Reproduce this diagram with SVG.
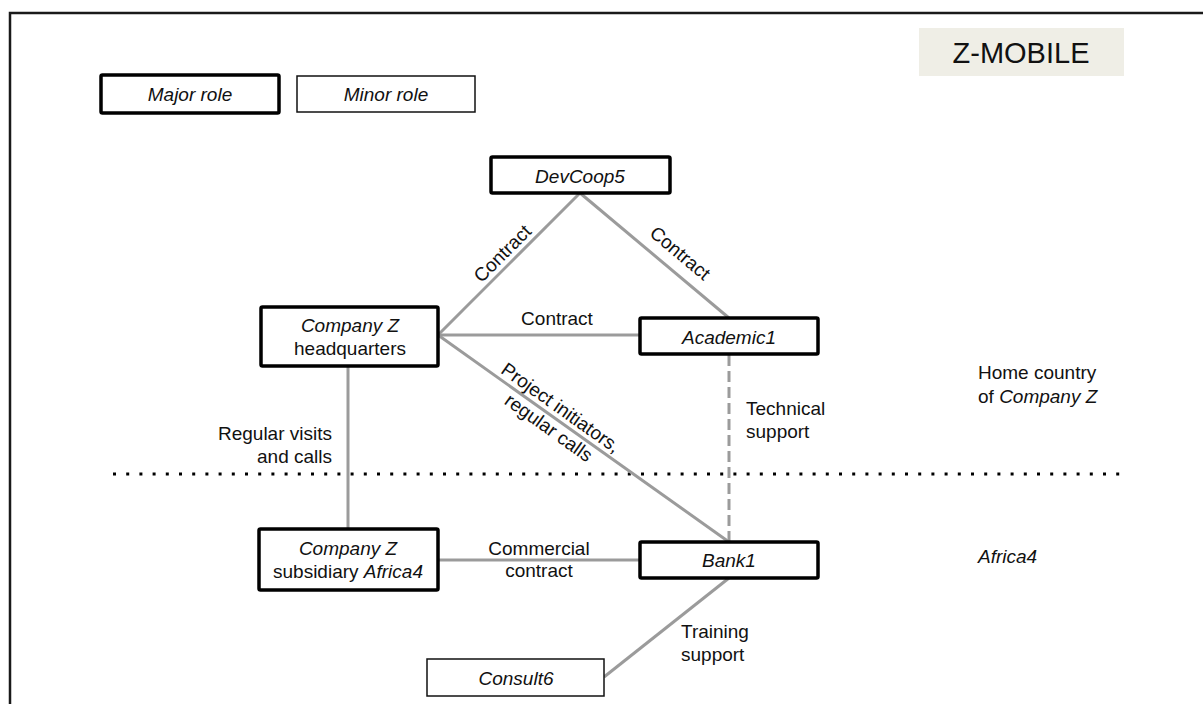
<svg xmlns="http://www.w3.org/2000/svg" width="1203" height="704" viewBox="0 0 1203 704">
  <style>
    text { font-family: "Liberation Sans", Arial, sans-serif; font-size: 19px; fill: #111; }
    .it { font-style: italic; }
    .mid { text-anchor: middle; }
    .end { text-anchor: end; }
    .major { fill: #fff; stroke: #000; stroke-width: 3.5; }
    .minor { fill: #fff; stroke: #111; stroke-width: 1.5; }
    .link { stroke: #9b9b9b; stroke-width: 3; fill: none; }
    .dashed { stroke-dasharray: 11 5; }
  </style>

  <!-- outer frame -->
  <rect x="10" y="13" width="1205" height="705" fill="#fff" stroke="#1a1a1a" stroke-width="2.5"/>

  <!-- title -->
  <g id="title">
    <rect x="919" y="28" width="205" height="48" fill="#efeee6"/>
    <text x="1021" y="63" class="mid" style="font-size:29px">Z-MOBILE</text>
  </g>

  <!-- legend -->
  <g id="legend-major">
    <rect x="101" y="75" width="178" height="38" rx="1.5" class="major"/>
    <text x="190" y="101" class="mid it">Major role</text>
  </g>
  <g id="legend-minor">
    <rect x="297" y="76" width="178" height="36" class="minor"/>
    <text x="386" y="101" class="mid it">Minor role</text>
  </g>

  <!-- border between home country and Africa4 -->
  <line x1="113" y1="474" x2="1126" y2="474" stroke="#000" stroke-width="3" stroke-dasharray="3 10.2"/>

  <!-- connectors -->
  <g id="connectors">
    <line x1="580" y1="193" x2="438" y2="335" class="link"/>
    <line x1="580" y1="193" x2="729" y2="318" class="link"/>
    <line x1="438" y1="335" x2="640" y2="335" class="link"/>
    <line x1="438" y1="335" x2="729" y2="542" class="link"/>
    <line x1="729" y1="355" x2="729" y2="542" class="link dashed"/>
    <line x1="348" y1="367" x2="348" y2="529" class="link"/>
    <line x1="438" y1="560" x2="640" y2="560" class="link"/>
    <line x1="729" y1="578" x2="604" y2="677" class="link"/>

    <text x="507" y="258" class="mid" transform="rotate(-45 507 258)">Contract</text>
    <text x="676" y="258" class="mid" transform="rotate(40 676 258)">Contract</text>
    <text x="557" y="325" class="mid">Contract</text>
    <text x="557" y="413" class="mid" transform="rotate(35.4 557 413)">Project initiators,</text>
    <text x="545" y="433" class="mid" transform="rotate(35.4 545 433)">regular calls</text>
    <text x="746" y="415">Technical</text>
    <text x="746" y="438">support</text>
    <text x="332" y="440" class="end">Regular visits</text>
    <text x="332" y="463" class="end">and calls</text>
    <text x="539" y="555" class="mid">Commercial</text>
    <text x="539" y="577" class="mid">contract</text>
    <text x="681" y="638">Training</text>
    <text x="681" y="661">support</text>
  </g>

  <!-- actors -->
  <g id="devcoop5">
    <rect x="491" y="157" width="179" height="36" rx="1.5" class="major"/>
    <text x="580" y="183" class="mid it">DevCoop5</text>
  </g>
  <g id="company-z-hq">
    <rect x="261" y="307" width="177" height="59" rx="1.5" class="major"/>
    <text x="350" y="332" class="mid it">Company Z</text>
    <text x="350" y="355" class="mid">headquarters</text>
  </g>
  <g id="academic1">
    <rect x="640" y="318" width="178" height="36" rx="1.5" class="major"/>
    <text x="729" y="344" class="mid it">Academic1</text>
  </g>
  <g id="company-z-subsidiary">
    <rect x="259" y="529" width="179" height="61" rx="1.5" class="major"/>
    <text x="348" y="555" class="mid it">Company Z</text>
    <text x="348" y="578" class="mid">subsidiary <tspan class="it">Africa4</tspan></text>
  </g>
  <g id="bank1">
    <rect x="640" y="542" width="178" height="36" rx="1.5" class="major"/>
    <text x="729" y="567" class="mid it">Bank1</text>
  </g>
  <g id="consult6">
    <rect x="427" y="659" width="177" height="37" class="minor"/>
    <text x="516" y="685" class="mid it">Consult6</text>
  </g>

  <!-- region labels -->
  <g id="regions">
    <text x="978" y="379">Home country</text>
    <text x="978" y="403">of <tspan class="it">Company Z</tspan></text>
    <text x="978" y="563" class="it">Africa4</text>
  </g>
</svg>
